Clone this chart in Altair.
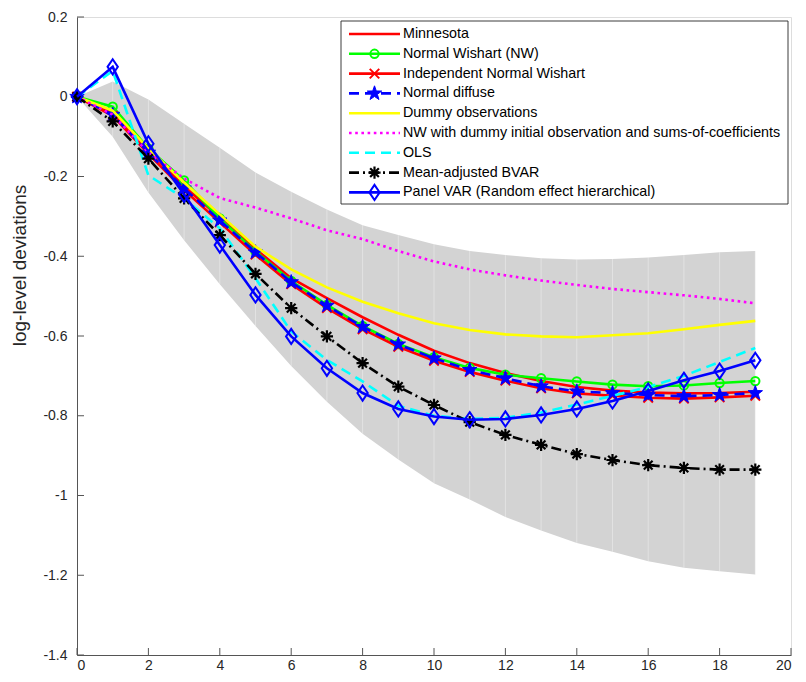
import math
import altair as alt
import pandas as pd

# ---------------- data ----------------
horizon = list(range(20))

minnesota = [0, -0.040, -0.135, -0.225, -0.303, -0.382, -0.455, -0.505, -0.553, -0.597,
             -0.637, -0.668, -0.693, -0.713, -0.728, -0.737, -0.742, -0.744, -0.743, -0.740]
normal_wishart = [0, -0.025, -0.130, -0.210, -0.305, -0.388, -0.462, -0.522, -0.575, -0.620,
                  -0.653, -0.680, -0.697, -0.706, -0.714, -0.722, -0.726, -0.724, -0.718, -0.713]
indep_nw = [0, -0.048, -0.143, -0.234, -0.315, -0.396, -0.470, -0.530, -0.583, -0.627,
            -0.662, -0.690, -0.712, -0.731, -0.744, -0.750, -0.755, -0.757, -0.754, -0.750]
normal_diffuse = [0, -0.045, -0.140, -0.230, -0.310, -0.390, -0.465, -0.524, -0.577, -0.621,
                  -0.656, -0.685, -0.706, -0.726, -0.739, -0.743, -0.748, -0.751, -0.748, -0.743]
dummy_obs = [0, -0.035, -0.130, -0.215, -0.295, -0.376, -0.433, -0.478, -0.514, -0.543,
             -0.568, -0.585, -0.596, -0.601, -0.603, -0.598, -0.593, -0.583, -0.572, -0.562]
nw_dummy = [0, -0.045, -0.140, -0.205, -0.254, -0.278, -0.305, -0.335, -0.357, -0.387,
            -0.413, -0.433, -0.448, -0.461, -0.472, -0.482, -0.490, -0.498, -0.507, -0.518]
ols = [0, 0.065, -0.197, -0.255, -0.330, -0.455, -0.589, -0.660, -0.714, -0.775,
       -0.800, -0.808, -0.805, -0.792, -0.772, -0.750, -0.728, -0.700, -0.665, -0.630]
mean_adj = [0, -0.062, -0.155, -0.255, -0.347, -0.444, -0.530, -0.601, -0.668, -0.727,
            -0.773, -0.816, -0.848, -0.873, -0.896, -0.911, -0.924, -0.931, -0.935, -0.935]
panel_var = [0, 0.075, -0.118, -0.245, -0.372, -0.497, -0.601, -0.681, -0.743, -0.783,
             -0.802, -0.810, -0.808, -0.798, -0.783, -0.763, -0.738, -0.711, -0.688, -0.661]

band_upper = [0, 0.038, -0.007, -0.068, -0.128, -0.190, -0.238, -0.283, -0.322, -0.347,
              -0.370, -0.387, -0.397, -0.405, -0.408, -0.407, -0.403, -0.397, -0.390, -0.387]
band_lower = [0, -0.100, -0.240, -0.360, -0.470, -0.575, -0.675, -0.765, -0.845, -0.910,
              -0.969, -1.010, -1.054, -1.088, -1.119, -1.141, -1.165, -1.181, -1.190, -1.198]

series_names = [
    "Minnesota",
    "Normal Wishart (NW)",
    "Independent Normal Wishart",
    "Normal diffuse",
    "Dummy observations",
    "NW with dummy initial observation and sums-of-coefficients",
    "OLS",
    "Mean-adjusted BVAR",
    "Panel VAR (Random effect hierarchical)",
]
series_values = [minnesota, normal_wishart, indep_nw, normal_diffuse, dummy_obs,
                 nw_dummy, ols, mean_adj, panel_var]

x_ticks = list(range(0, 21, 2))
y_ticks = [0.2, 0, -0.2, -0.4, -0.6, -0.8, -1.0, -1.2, -1.4]

# ---------------- styles ----------------
W, H = 714, 638
FONT = "Liberation Sans"
TXT = "#262626"

star_pts = []
for k in range(10):
    ang = math.radians(-90 + 36 * k)
    r = 1.0 if k % 2 == 0 else 0.40
    star_pts.append(f"{r*math.cos(ang):.3f},{r*math.sin(ang):.3f}")
STAR = "M" + "L".join(star_pts) + "Z"
XMARK = "M-1,-1L1,1M-1,1L1,-1"
ASTER = "M0,-1L0,1M-1,0L1,0M-0.71,-0.71L0.71,0.71M-0.71,0.71L0.71,-0.71"
DIAM = "M0,-1L0.68,0L0,1L-0.68,0Z"

styles = [
    dict(color="#ff0000", dash=None, marker=None),
    dict(color="#00ff00", dash=None, marker=dict(shape="circle", size=70, filled=False, sw=2)),
    dict(color="#ff0000", dash=None, marker=dict(shape=XMARK, size=90, filled=False, sw=2)),
    dict(color="#0000ff", dash=[10, 6], marker=dict(shape=STAR, size=230, filled=True, sw=1)),
    dict(color="#ffff00", dash=None, marker=None),
    dict(color="#ff00ff", dash=[2.6, 3.6], marker=None),
    dict(color="#00ffff", dash=[10, 6], marker=None),
    dict(color="#000000", dash=[10, 4, 2, 4], marker=dict(shape=ASTER, size=150, filled=False, sw=2.2)),
    dict(color="#0000ff", dash=None, marker=dict(shape=DIAM, size=230, filled=False, sw=2)),
]

xs = alt.Scale(domain=[0, 20], nice=False, zero=False)
ys = alt.Scale(domain=[-1.4, 0.2], nice=False, zero=False)

band_df = pd.DataFrame({"t": horizon, "lo": band_lower, "hi": band_upper})

band = alt.Chart(band_df).mark_area(color="#d3d3d3", opacity=1).encode(
    x=alt.X("t:Q", scale=xs,
            axis=alt.Axis(values=x_ticks, title=None, ticks=False, labelPadding=3,
                          domainColor="#555555", domainWidth=1, labelFontSize=14,
                          labelColor=TXT, labelFont=FONT, grid=False)),
    y=alt.Y("lo:Q", scale=ys,
            axis=alt.Axis(values=y_ticks, title="log-level deviations", ticks=False,
                          labelPadding=10, domainColor="#555555", domainWidth=1,
                          labelFontSize=14, labelColor=TXT, labelFont=FONT, grid=False,
                          labelExpr="replace(format(datum.value, '~g'), '\u2212', '-')",
                          titleFont=FONT, titleFontSize=19, titleFontWeight="normal",
                          titleColor=TXT, titleX=-52, titleY=248, titleAngle=-90,
                          titleAlign="center", titleBaseline="alphabetic")),
    y2="hi:Q",
)

band_lines = alt.Chart(band_df[band_df.t > 0]).mark_rule(
    color="white", opacity=0.45, strokeWidth=0.8
).encode(x=alt.X("t:Q", scale=xs), y=alt.Y("lo:Q", scale=ys), y2="hi:Q")

xtick_layer = alt.Chart(pd.DataFrame({"v": x_ticks})).mark_rule(
    color="#555555", strokeWidth=1
).encode(x=alt.X("v:Q", scale=xs), y=alt.value(H), y2=alt.value(H - 7))

ytick_layer = alt.Chart(pd.DataFrame({"v": y_ticks})).mark_rule(
    color="#555555", strokeWidth=1
).encode(y=alt.Y("v:Q", scale=ys), x=alt.value(0), x2=alt.value(7))

layers = [band, band_lines, xtick_layer, ytick_layer]

for name, vals, st in zip(series_names, series_values, styles):
    df = pd.DataFrame({"t": horizon, "v": vals})
    line_kw = dict(color=st["color"], strokeWidth=2.6)
    if st["dash"]:
        line_kw["strokeDash"] = st["dash"]
    layers.append(alt.Chart(df).mark_line(**line_kw).encode(
        x=alt.X("t:Q", scale=xs), y=alt.Y("v:Q", scale=ys)))
    m = st["marker"]
    if m:
        pk = dict(shape=m["shape"], size=m["size"], strokeWidth=m["sw"], opacity=1,
                  filled=m["filled"], color=st["color"], stroke=st["color"])
        if m["filled"]:
            pk["fill"] = st["color"]
        layers.append(alt.Chart(df).mark_point(**pk).encode(
            x=alt.X("t:Q", scale=xs), y=alt.Y("v:Q", scale=ys)))

# ---------------- legend ----------------
LX0, LX1, LY0, LY1 = 264, 711, 4, 187
legend_box = alt.Chart(pd.DataFrame({"a": [0]})).mark_rect(
    fill="white", stroke="#262626", strokeWidth=0.9
).encode(x=alt.value(LX0), x2=alt.value(LX1), y=alt.value(LY0), y2=alt.value(LY1))
layers.append(legend_box)

for i, (name, st) in enumerate(zip(series_names, styles)):
    yy = 17 + 19.8 * i
    one = pd.DataFrame({"name": [name]})
    rk = dict(color=st["color"], strokeWidth=2.6)
    if st["dash"]:
        rk["strokeDash"] = st["dash"]
    layers.append(alt.Chart(one).mark_rule(**rk).encode(
        x=alt.value(272), x2=alt.value(323), y=alt.value(yy)))
    m = st["marker"]
    if m:
        pk = dict(shape=m["shape"], size=m["size"], strokeWidth=m["sw"], opacity=1,
                  filled=m["filled"], color=st["color"], stroke=st["color"])
        if m["filled"]:
            pk["fill"] = st["color"]
        layers.append(alt.Chart(one).mark_point(**pk).encode(
            x=alt.value(297.5), y=alt.value(yy)))
    layers.append(alt.Chart(one).mark_text(
        align="left", baseline="middle", font=FONT, fontSize=14.3, color="#000000"
    ).encode(x=alt.value(326), y=alt.value(yy), text="name:N"))

chart = alt.layer(*layers).properties(
    width=W, height=H,
    autosize=alt.AutoSizeParams(type="none"),
    padding={"left": 69, "top": 9, "right": 7, "bottom": 18},
).configure_view(stroke=None).configure(background="white")

chart.save("out.html", embed_options={"renderer": "svg", "actions": False})
